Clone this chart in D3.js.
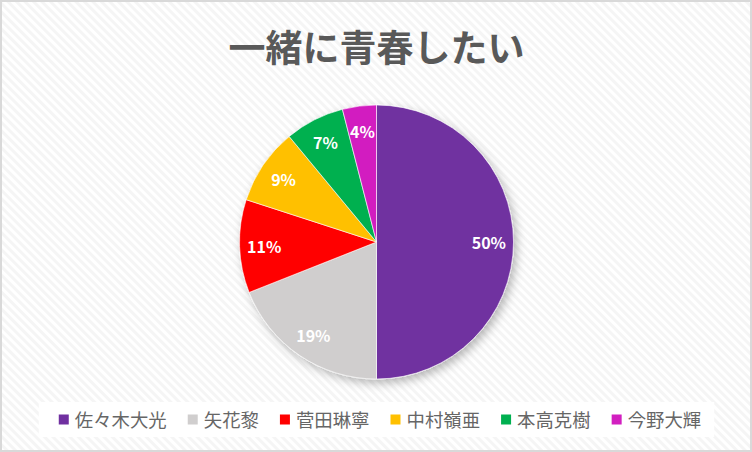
<!DOCTYPE html>
<html>
<head>
<meta charset="utf-8">
<script src="https://cdn.jsdelivr.net/npm/d3@7"></script>
<style>
  html, body { margin: 0; padding: 0; background: #fff; }
  svg { display: block; }
  text { font-family: "Noto Sans CJK JP", "Noto Sans", sans-serif; }
</style>
</head>
<body>
<svg id="chart"></svg>
<script>
// data
var names = ["佐々木大光", "矢花黎", "菅田琳寧", "中村嶺亜", "本高克樹", "今野大輝"];
var shares = [50, 19, 11, 9, 7, 4];
var colours = ["#7030a0", "#d0cece", "#ff0000", "#ffc000", "#00b050", "#d21fc0"];
var title = "一緒に青春したい";

var width = 752, height = 452;
var cx = 376.5, cy = 242, radius = 137;

var svg = d3.select('#chart')
    .attr("width", width)
    .attr("height", height);

var defs = svg.append("defs");

// light diagonal hatch behind everything
var pat = defs.append("pattern")
    .attr("id", "hatch")
    .attr("width", 6).attr("height", 6)
    .attr("patternUnits", "userSpaceOnUse")
    .attr("patternTransform", "rotate(45)");
pat.append("rect").attr("width", 6).attr("height", 6).attr("fill", "#ffffff");
pat.append("rect").attr("width", 6).attr("height", 3).attr("fill", "#f5f5f5");

var shadow = defs.append("filter")
    .attr("id", "shadow")
    .attr("x", "-20%").attr("y", "-20%")
    .attr("width", "150%").attr("height", "150%");
shadow.append("feDropShadow")
    .attr("dx", 3).attr("dy", 4)
    .attr("stdDeviation", 5)
    .attr("flood-color", "#000")
    .attr("flood-opacity", 0.28);

svg.append("rect")
    .attr("x", 1).attr("y", 1)
    .attr("width", width - 2).attr("height", height - 2)
    .attr("fill", "url(#hatch)")
    .attr("stroke", "#d9d9d9")
    .attr("stroke-width", 2);

svg.append("text")
    .attr("x", cx)
    .attr("y", 46)
    .attr("text-anchor", "middle")
    .attr("dominant-baseline", "central")
    .attr("font-size", 37)
    .attr("font-weight", "bold")
    .attr("fill", "#595959")
    .text(title);

var pie = d3.pie().sort(null).value(function(d) { return d; });
var arc = d3.arc().innerRadius(0).outerRadius(radius);
var labelArc = d3.arc().innerRadius(radius * 0.82).outerRadius(radius * 0.82);
var slices = pie(shares);

var g = svg.append("g")
    .attr("transform", "translate(" + cx + "," + cy + ")");

g.append("g")
    .attr("filter", "url(#shadow)")
    .selectAll("path")
    .data(slices)
    .enter()
    .append("path")
    .attr("d", arc)
    .attr("fill", function(d, i) { return colours[i]; })
    .attr("stroke", "#ffffff")
    .attr("stroke-width", 0.6);

g.selectAll("text.lbl")
    .data(slices)
    .enter()
    .append("text")
    .attr("class", "lbl")
    .attr("transform", function(d) { return "translate(" + labelArc.centroid(d) + ")"; })
    .attr("text-anchor", "middle")
    .attr("dominant-baseline", "central")
    .attr("font-size", 16)
    .attr("font-weight", "bold")
    .attr("fill", "#ffffff")
    .text(function(d) { return d.data + "%"; });

// legend
var legendBox = svg.append("rect")
    .attr("fill", "#ffffff");
var legend = svg.append("g");
var x = 0;
names.forEach(function(n, i) {
  var item = legend.append("g").attr("transform", "translate(" + x + ",0)");
  item.append("rect")
      .attr("x", 0).attr("y", -4.5)
      .attr("width", 10).attr("height", 10)
      .attr("fill", colours[i]);
  var t = item.append("text")
      .attr("x", 16).attr("y", 0)
      .attr("dominant-baseline", "central")
      .attr("font-size", 18.4)
      .attr("fill", "#666666")
      .text(n);
  x += 16 + t.node().getComputedTextLength() + 21;
});
var legendW = x - 21;
var lx = 380 - legendW / 2;
legend.attr("transform", "translate(" + lx + ",419)");
legendBox
    .attr("x", lx - 20).attr("y", 402)
    .attr("width", legendW + 33).attr("height", 35);
</script>
</body>
</html>
